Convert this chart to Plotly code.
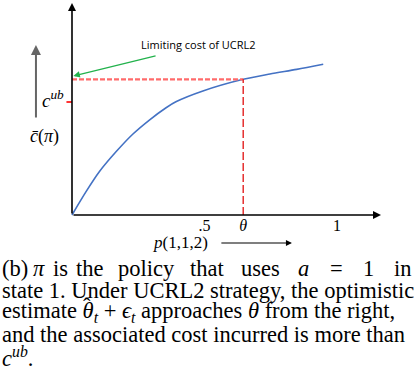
import plotly.graph_objects as go

# curve c(pi) versus p(1,1,2)
curve_x = [0.0, 0.053, 0.103, 0.166, 0.229, 0.292, 0.355, 0.392, 0.494, 0.646, 0.747, 0.848, 0.948]
curve_y = [0.0, 0.110, 0.204, 0.298, 0.381, 0.448, 0.506, 0.534, 0.585, 0.640, 0.665, 0.687, 0.711]

theta = 0.646
c_limit = 0.640
c_ub = 0.533

tick_vals = [0.5, theta, 1.0]
tick_text = [".5", "<i>θ</i>", "1"]

# first caption line is stretched, so its words are placed one by one (centre px)
caption_words = [("(b)", 0), ("<i>π</i>", 39), ("is", 60), ("the", 90), ("policy", 146), ("that", 207),
                 ("uses", 260), ("<i>a</i>", 303.5), ("=", 336), ("1", 368), ("in", 414)]
caption_rest = [
    "state 1. Under UCRL2 strategy, the optimistic",
    "estimate <i>θ</i><sub><i>t</i></sub> + <i>ϵ</i><sub><i>t</i></sub> approaches <i>θ</i> from the right,",
    "and the associated cost incurred is more than",
    "<i>c</i><sup><i>ub</i></sup>.",
]

W, H = 414, 382
# pixel frame of the drawing: x=0 at px 72, 1 unit = 265 px; y=0 at px 215, 1 unit = 212 px
x0 = -72 / 265
x1 = x0 + W / 265
y1 = 215 / 212
y0 = -(H - 215) / 212

fig = go.Figure()

fig.add_trace(go.Scatter(
    x=curve_x, y=curve_y, mode="lines",
    line=dict(color="#4472c4", width=1.6, shape="spline", smoothing=0.8),
    hoverinfo="skip", showlegend=False,
))

# dashed guides
fig.add_trace(go.Scatter(
    x=[0, theta], y=[c_limit, c_limit], mode="lines",
    line=dict(color="#ff6b6b", width=2.2, dash="5px,2px"),
    hoverinfo="skip", showlegend=False,
))
fig.add_trace(go.Scatter(
    x=[theta, theta], y=[0, c_limit], mode="lines",
    line=dict(color="#e01010", width=1.3, dash="8px,3px"),
    hoverinfo="skip", showlegend=False,
))
# c^ub tick
fig.add_trace(go.Scatter(
    x=[-0.021, 0], y=[c_ub, c_ub], mode="lines",
    line=dict(color="#ff0000", width=1.6),
    hoverinfo="skip", showlegend=False,
))

# tick labels under the axis
fig.add_trace(go.Scatter(
    x=tick_vals, y=[-0.058] * 3, mode="text", text=tick_text,
    textfont=dict(family="Liberation Serif", size=16, color="black"),
    hoverinfo="skip", showlegend=False,
))

arrows = [
    # (tip x, tip y, tail x, tail y, color, width)
    (0.0, 1.0, 0.0, 0.0, "black", 1.6),
    (1.166, 0.0, 0.0, 0.0, "black", 1.6),
    (-0.136, 0.802, -0.136, 0.453, "#666666", 2.0),
    (0.005, 0.656, 0.321, 0.752, "#22b24c", 1.3),
    (0.830, -0.132, 0.558, -0.132, "black", 1.2),
]
for tx, ty, sx, sy, col, wd in arrows:
    fig.add_annotation(
        x=tx, y=ty, ax=sx, ay=sy, xref="x", yref="y", axref="x", ayref="y",
        text="", showarrow=True, arrowhead=2, arrowsize=1.0,
        arrowwidth=wd, arrowcolor=col, standoff=0, startstandoff=0,
    )

fig.add_annotation(x=0.479, y=0.802, xref="x", yref="y", text="Limiting cost of UCRL2",
                   showarrow=False, font=dict(family="Open Sans", size=11, color="black"))
fig.add_annotation(x=-0.024, y=0.548, xref="x", yref="y", xanchor="right",
                   text="<i>c</i><sup><i>ub</i></sup>", showarrow=False,
                   font=dict(family="Liberation Serif", size=19, color="black"))
fig.add_annotation(x=-0.102, y=0.368, xref="x", yref="y",
                   text="<i>c̄</i>(<i>π</i>)", showarrow=False,
                   font=dict(family="Liberation Serif", size=18, color="black"))
fig.add_annotation(x=0.408, y=-0.132, xref="x", yref="y",
                   text="<i>p</i>(1,1,2)", showarrow=False,
                   font=dict(family="Liberation Serif", size=17, color="black"))

# caption
cap_font = dict(family="Liberation Serif", size=22.5, color="black")
line_mid = [268, 290, 312, 334, 357]
n = len(caption_words)
for k, (word, cx) in enumerate(caption_words):
    anchor = "left" if k == 0 else ("right" if k == n - 1 else "center")
    fig.add_annotation(x=cx / W, y=1 - line_mid[0] / H, xref="paper", yref="paper",
                       xanchor=anchor, yanchor="middle", text=word, showarrow=False, font=cap_font)
for line, ymid in zip(caption_rest, line_mid[1:]):
    fig.add_annotation(x=0, y=1 - ymid / H, xref="paper", yref="paper",
                       xanchor="left", yanchor="middle", text=line, showarrow=False, font=cap_font)
# hat over theta in the caption
fig.add_annotation(x=87 / W, y=1 - (line_mid[2] - 6) / H, xref="paper", yref="paper",
                   xanchor="center", yanchor="middle", text="ˆ", showarrow=False, font=cap_font)

fig.update_layout(
    width=W, height=H,
    margin=dict(l=0, r=0, t=0, b=0),
    paper_bgcolor="white", plot_bgcolor="white",
    xaxis=dict(range=[x0, x1], visible=False, fixedrange=True),
    yaxis=dict(range=[y0, y1], visible=False, fixedrange=True),
)

# drop the default page margin so the figure sits at the window's corner
fig.write_html("out.html", config={"displayModeBar": False},
               post_script="document.body.style.margin = '0';")
